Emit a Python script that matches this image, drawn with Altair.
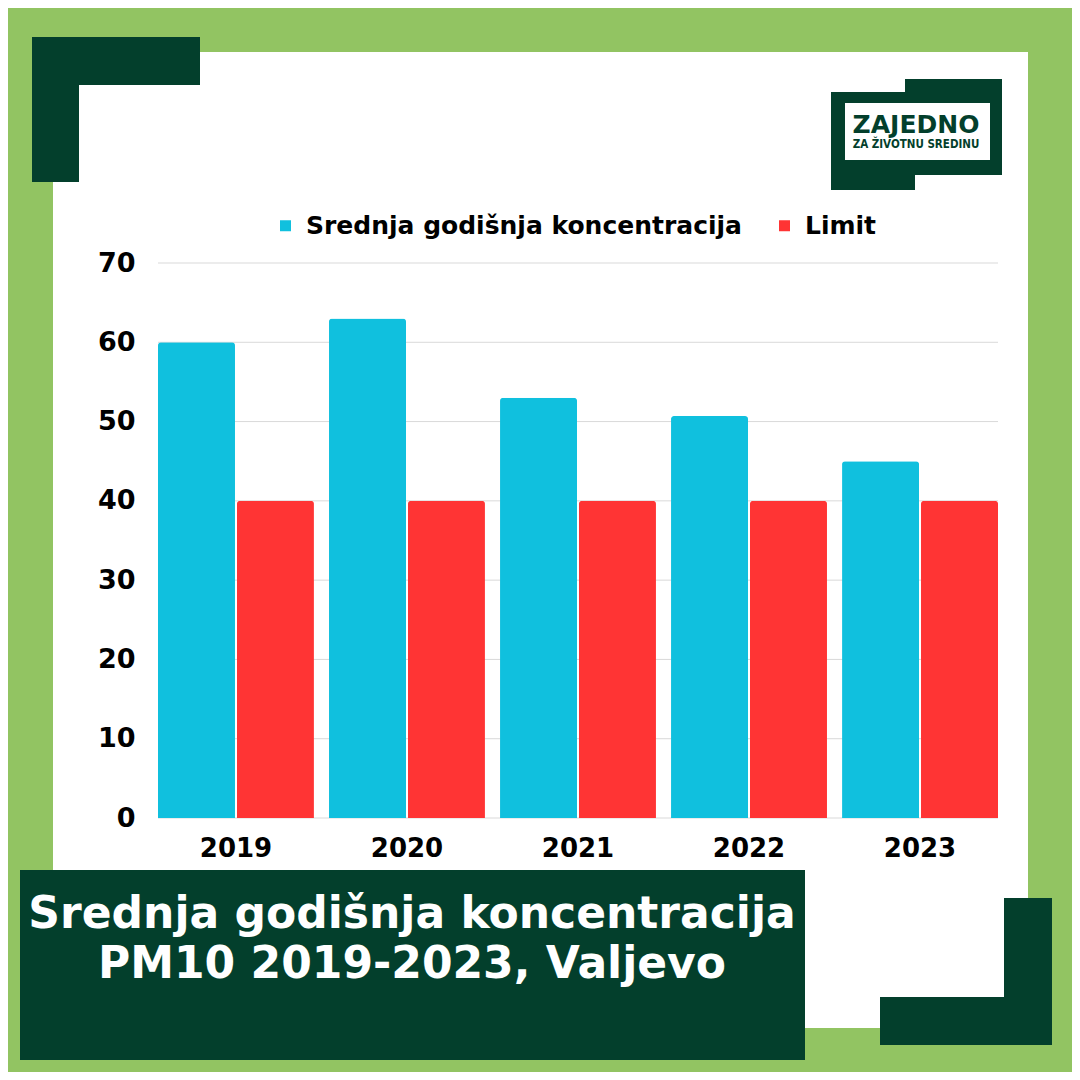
import altair as alt
import pandas as pd

# ---------------- data ----------------
years = ["2019", "2020", "2021", "2022", "2023"]
mean_conc = [60, 63, 53, 50.7, 45]
limit_vals = [40, 40, 40, 40, 40]
series_names = ["Srednja godišnja koncentracija", "Limit"]
y_ticks = [0, 10, 20, 30, 40, 50, 60, 70]
title_lines = ["Srednja godišnja koncentracija", "PM10 2019-2023, Valjevo"]
logo_lines = ["ZAJEDNO", "ZA ŽIVOTNU SREDINU"]

# ---------------- style ----------------
GREEN = "#92C462"
DARK = "#033F2C"
BLUE = "#10C0DE"
RED = "#FF3434"
WHITE = "#FFFFFF"
FONT = "DejaVu Sans"

CANVAS = 1064
W, H = 840, 555           # plot area
OX, OY = 150, 255         # plot origin inside the canvas (padding)
PX, PY = OX + 8, OY + 8   # plot origin on the page


def box(x0, y0, x1, y1, c):
    return dict(x0=x0 - PX, x1=x1 - PX, y0=y0 - PY, y1=y1 - PY, c=c)


deco_rects = [
    box(53, 52, 1028, 1028, WHITE),       # white panel
    box(32, 37, 200, 85, DARK),           # top-left L
    box(32, 37, 79, 182, DARK),
    box(1004, 898, 1052, 1045, DARK),     # bottom-right L
    box(880, 997, 1052, 1045, DARK),
    box(20, 870, 805, 1060, DARK),        # title box
    # logo frame
    box(831, 92, 845, 190, DARK),
    box(831, 92, 905, 103, DARK),
    box(905, 79, 1002, 103, DARK),
    box(990, 79, 1002, 175, DARK),
    box(915, 160, 1002, 175, DARK),
    box(831, 160, 915, 190, DARK),
]
deco_df = pd.DataFrame(deco_rects)

deco = alt.Chart(deco_df).mark_rect().encode(
    x=alt.X("x0:Q", scale=None, axis=None),
    x2="x1:Q",
    y=alt.Y("y0:Q", scale=None, axis=None),
    y2="y1:Q",
    color=alt.Color("c:N", scale=None),
)

# ---------------- bars ----------------
rows = []
for yr, m, l in zip(years, mean_conc, limit_vals):
    rows.append(dict(year=yr, series=series_names[0], value=m))
    rows.append(dict(year=yr, series=series_names[1], value=l))
bar_df = pd.DataFrame(rows)

y_scale = alt.Scale(domain=[0, 70], nice=False)
y_axis = alt.Axis(
    title=None, values=y_ticks, grid=False, domain=False, ticks=False,
    labelFont=FONT, labelFontSize=27, labelFontWeight="bold",
    labelColor="black", labelPadding=23, zindex=1,
)

grid = alt.Chart(pd.DataFrame({"value": y_ticks})).mark_rule(
    color="#D9D9D9", strokeWidth=1
).encode(
    y=alt.Y("value:Q", scale=y_scale, axis=y_axis),
    x=alt.value(0),
    x2=alt.value(W),
)

bars = alt.Chart(bar_df).mark_bar(
    cornerRadiusTopLeft=3, cornerRadiusTopRight=3
).encode(
    x=alt.X(
        "year:N",
        sort=years,
        scale=alt.Scale(paddingInner=0.088, paddingOuter=0),
        axis=alt.Axis(
            title=None, labelAngle=0, labelFont=FONT, labelFontSize=26,
            labelFontWeight="bold", labelColor="black", labelPadding=17,
            domain=False, ticks=False, zindex=1,
        ),
    ),
    xOffset=alt.XOffset("series:N", sort=series_names,
                        scale=alt.Scale(paddingInner=0.025)),
    y=alt.Y("value:Q", scale=y_scale, axis=y_axis),
    color=alt.Color(
        "series:N",
        sort=series_names,
        scale=alt.Scale(domain=series_names, range=[BLUE, RED]),
        legend=alt.Legend(
            title=None, orient="none", direction="horizontal",
            legendX=115, legendY=-50,
            symbolType="square", symbolSize=121, symbolStrokeWidth=0,
            labelFont=FONT, labelFontSize=25, labelFontWeight="bold",
            labelColor="black", labelOffset=8, columnPadding=30,
            labelLimit=600,
        ),
    ),
)

# ---------------- texts ----------------
title_df = pd.DataFrame({"t": title_lines, "yy": [928 - PY, 978 - PY]})
title = alt.Chart(title_df).mark_text(
    font=FONT, fontSize=44, fontWeight="bold", color="white",
    align="center", baseline="alphabetic",
).encode(
    x=alt.value(412 - PX),
    y=alt.Y("yy:Q", scale=None, axis=None),
    text="t:N",
)

logo_df = pd.DataFrame({"t": logo_lines, "yy": [133 - PY, 148 - PY]})
logo_big = alt.Chart(logo_df.iloc[[0]]).mark_text(
    font=FONT, fontSize=25, fontWeight="bold", color=DARK,
    align="center", baseline="alphabetic",
).encode(
    x=alt.value(916 - PX),
    y=alt.Y("yy:Q", scale=None, axis=None),
    text="t:N",
)
logo_small = alt.Chart(logo_df.iloc[[1]]).mark_text(
    font="DejaVu Sans Condensed, DejaVu Sans", fontSize=11.5,
    fontWeight="bold", color=DARK,
    align="center", baseline="alphabetic",
).encode(
    x=alt.value(916 - PX),
    y=alt.Y("yy:Q", scale=None, axis=None),
    text="t:N",
)

chart = alt.layer(
    deco,
    alt.layer(grid, bars),
    title,
    logo_big,
    logo_small,
).resolve_scale(
    x="independent", y="independent", color="independent"
).properties(
    width=W,
    height=H,
    autosize=alt.AutoSizeParams(type="none"),
    padding={"left": OX, "top": OY, "right": CANVAS - OX - W,
             "bottom": CANVAS - OY - H},
    background=GREEN,
).configure_view(stroke=None)

chart.save("out.html", embed_options={"renderer": "svg", "actions": False})
